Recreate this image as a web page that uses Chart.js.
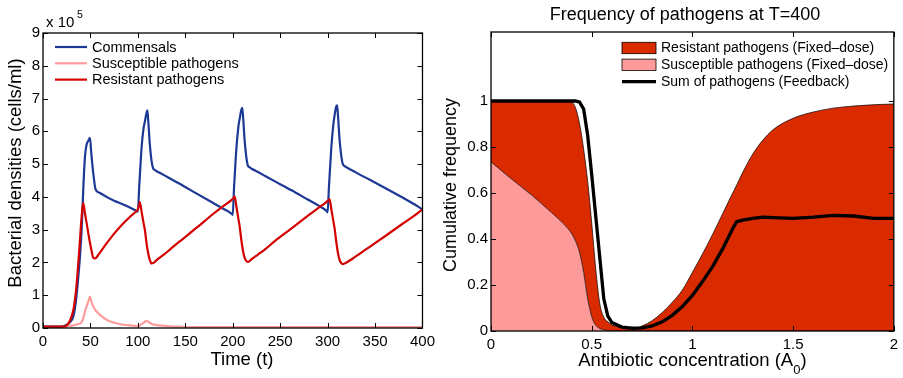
<!DOCTYPE html>
<html>
<head>
<meta charset="utf-8">
<script src="https://cdn.jsdelivr.net/npm/chart.js@4.4.1/dist/chart.umd.min.js"></script>
<style>
  html, body { margin: 0; padding: 0; background: #fff; }
  #wrap { position: relative; width: 903px; height: 378px; overflow: hidden; }
  #dens { position: absolute; left: 0; top: 0; }
  #freq { position: absolute; left: 440px; top: 0; }
</style>
</head>
<body>
<div id="wrap">
  <canvas id="dens" width="440" height="378"></canvas>
  <canvas id="freq" width="463" height="378"></canvas>
</div>
<script>
// ---- left panel: densities over time, in units of 1e5 cells/ml ----
const times = [0, 15, 22, 25, 28, 32, 35, 37.2, 39, 40.7, 42.4, 44.2, 46, 48, 49.5, 51, 53, 55, 56.5, 60, 67, 75, 84.5, 92, 98.6, 100,
  101.4, 102, 103.9, 106, 107.4, 109, 110, 111, 112.6, 114.4, 116, 118, 120, 126.6, 134, 144, 162, 179, 190, 198.6, 200,
  201.4, 202, 203.9, 206, 207.4, 209, 210, 211, 212.6, 214.4, 216, 218, 220, 226.6, 234, 244, 262, 279, 290, 298.6, 300,
  301.4, 302, 303.9, 306, 307.4, 309, 310, 311, 312.6, 314.4, 316, 318, 320, 326.6, 334, 344, 362, 379, 390, 400];

const commensals = [0.04, 0.04, 0.06, 0.1, 0.17, 0.35, 0.9, 1.56, 2.2, 2.99, 4.2, 5.22, 5.6, 5.72, 5.8, 5.3, 4.72, 4.28, 4.18, 4.12, 4.0, 3.88, 3.77, 3.67, 3.57, 3.55,
  4.3, 4.6, 5.5, 6.1, 6.3, 6.55, 6.64, 6.3, 5.6, 5.1, 4.88, 4.82, 4.78, 4.68, 4.56, 4.4, 4.1, 3.82, 3.64, 3.49, 3.45,
  4.3, 4.6, 5.5, 6.15, 6.4, 6.65, 6.72, 6.4, 5.7, 5.2, 4.95, 4.9, 4.86, 4.76, 4.64, 4.48, 4.2, 3.92, 3.74, 3.58, 3.53,
  4.3, 4.6, 5.5, 6.2, 6.5, 6.75, 6.79, 6.45, 5.75, 5.25, 5.0, 4.94, 4.9, 4.8, 4.68, 4.53, 4.25, 3.98, 3.8, 3.62];

const susceptible = [0.03, 0.03, 0.04, 0.05, 0.06, 0.08, 0.1, 0.12, 0.14, 0.17, 0.3, 0.5, 0.66, 0.83, 0.96, 0.8, 0.66, 0.55, 0.5, 0.4, 0.25, 0.16, 0.1, 0.08, 0.06, 0.06,
  0.07, 0.08, 0.12, 0.16, 0.19, 0.22, 0.21, 0.19, 0.16, 0.13, 0.11, 0.1, 0.09, 0.07, 0.05, 0.04, 0.03, 0.03, 0.03, 0.03, 0.03,
  0.03, 0.03, 0.03, 0.03, 0.03, 0.03, 0.03, 0.03, 0.03, 0.03, 0.03, 0.03, 0.03, 0.03, 0.03, 0.03, 0.03, 0.03, 0.03, 0.03, 0.03,
  0.03, 0.03, 0.03, 0.03, 0.03, 0.03, 0.03, 0.03, 0.03, 0.03, 0.03, 0.03, 0.03, 0.03, 0.03, 0.03, 0.03, 0.03, 0.03, 0.03];

const resistant = [0.04, 0.04, 0.05, 0.08, 0.2, 0.55, 1.2, 1.97, 2.7, 3.39, 3.82, 3.5, 3.2, 2.85, 2.6, 2.38, 2.14, 2.12, 2.16, 2.3, 2.58, 2.88, 3.19, 3.4, 3.57, 3.62,
  3.78, 3.85, 3.55, 3.2, 2.99, 2.62, 2.42, 2.26, 2.08, 1.97, 1.98, 2.02, 2.08, 2.22, 2.4, 2.64, 3.06, 3.47, 3.72, 3.9, 3.94,
  3.98, 4.02, 3.7, 3.32, 3.08, 2.7, 2.5, 2.32, 2.14, 2.04, 2.02, 2.05, 2.1, 2.24, 2.4, 2.64, 3.04, 3.42, 3.66, 3.84, 3.88,
  3.91, 3.93, 3.63, 3.27, 3.03, 2.66, 2.45, 2.27, 2.08, 1.98, 1.95, 1.97, 2.0, 2.12, 2.27, 2.47, 2.83, 3.18, 3.4, 3.62];

// ---- right panel: frequency of pathogens at T=400 ----
const concentrations = [0, 0.1, 0.2, 0.3, 0.36, 0.4, 0.42, 0.44, 0.46, 0.48, 0.5, 0.52, 0.54, 0.56, 0.58, 0.6, 0.65, 0.7, 0.75, 0.8,
  0.85, 0.9, 0.95, 1.0, 1.05, 1.1, 1.15, 1.2, 1.22, 1.25, 1.3, 1.35, 1.4, 1.5, 1.6, 1.7, 1.8, 1.9, 2.0];
// susceptible share (fixed dose)
const susceptibleFixed = [0.735, 0.662, 0.592, 0.515, 0.466, 0.424, 0.39, 0.34, 0.255, 0.14, 0.062, 0.025, 0.011, 0.005, 0.002, 0, 0, 0, 0, 0,
  0, 0, 0, 0, 0, 0, 0, 0, 0, 0, 0, 0, 0, 0, 0, 0, 0, 0, 0];
// susceptible + resistant (fixed dose), top of the red area
const allFixed = [1.0, 1.0, 1.0, 1.0, 1.0, 0.995, 0.97, 0.9, 0.79, 0.65, 0.47, 0.27, 0.12, 0.06, 0.04, 0.027, 0.015, 0.01, 0.022, 0.045,
  0.08, 0.125, 0.178, 0.255, 0.335, 0.42, 0.51, 0.6, 0.635, 0.69, 0.77, 0.83, 0.875, 0.925, 0.952, 0.969, 0.978, 0.984, 0.987];
// sum of pathogens with feedback dosing
const sumFeedback = [1.0, 1.0, 1.0, 1.0, 1.0, 1.0, 1.0, 0.995, 0.965, 0.85, 0.68, 0.5, 0.32, 0.14, 0.065, 0.037, 0.017, 0.012, 0.014, 0.022,
  0.04, 0.068, 0.106, 0.155, 0.215, 0.28, 0.357, 0.445, 0.475, 0.482, 0.49, 0.495, 0.493, 0.49, 0.495, 0.503, 0.5, 0.49, 0.49];

const FONT = "'Liberation Sans', Arial, Helvetica, sans-serif";
Chart.defaults.font.family = FONT;
Chart.defaults.color = '#000';

const pts = (xs, ys) => xs.map((x, i) => ({ x: x, y: ys[i] }));
const plainNum = v => String(Math.round(v * 100) / 100);

// matlab style box with inward ticks on all four sides
const boxAxes = {
  id: 'boxAxes',
  afterDatasetsDraw(chart) {
    const { ctx, chartArea: a, scales } = chart;
    const x = scales.x, y = scales.y, len = 5;
    ctx.save();
    ctx.strokeStyle = '#000';
    ctx.lineWidth = 1;
    ctx.beginPath();
    x.ticks.forEach(t => {
      const px = Math.round(x.getPixelForValue(t.value)) + 0.5;
      ctx.moveTo(px, a.bottom); ctx.lineTo(px, a.bottom - len);
      ctx.moveTo(px, a.top); ctx.lineTo(px, a.top + len);
    });
    y.ticks.forEach(t => {
      const py = Math.round(y.getPixelForValue(t.value)) + 0.5;
      ctx.moveTo(a.left, py); ctx.lineTo(a.left + len, py);
      ctx.moveTo(a.right, py); ctx.lineTo(a.right - len, py);
    });
    ctx.stroke();
    ctx.lineWidth = 1.3;
    ctx.strokeRect(a.left, a.top, a.right - a.left, a.bottom - a.top);
    ctx.restore();
  }
};

function drawRotated(ctx, text, cx, cy) {
  ctx.save();
  ctx.translate(cx, cy);
  ctx.rotate(-Math.PI / 2);
  ctx.textAlign = 'center';
  ctx.textBaseline = 'middle';
  ctx.fillText(text, 0, 0);
  ctx.restore();
}

const densityExtras = {
  id: 'densityExtras',
  afterDraw(chart) {
    const { ctx } = chart;
    ctx.save();
    ctx.fillStyle = '#000';
    // exponent label
    ctx.textBaseline = 'alphabetic';
    ctx.font = '15px ' + FONT;
    ctx.fillText('x 10', 46, 27);
    ctx.font = '10.5px ' + FONT;
    ctx.fillText('5', 77, 18);
    // axis titles
    ctx.font = '18.5px ' + FONT;
    ctx.textAlign = 'center';
    ctx.textBaseline = 'middle';
    ctx.fillText('Time (t)', 242, 360);
    drawRotated(ctx, 'Bacterial densities (cells/ml)', 15.5, 173);
    // legend
    ctx.font = '14.5px ' + FONT;
    ctx.textAlign = 'left';
    chart.data.datasets.forEach((ds, i) => {
      const ly = 47 + i * 16.3;
      ctx.strokeStyle = ds.borderColor;
      ctx.lineWidth = 2.2;
      ctx.beginPath();
      ctx.moveTo(55, ly); ctx.lineTo(87, ly);
      ctx.stroke();
      ctx.fillText(ds.label, 92, ly + 0.5);
    });
    ctx.restore();
  }
};

const freqExtras = {
  id: 'freqExtras',
  afterDraw(chart) {
    const { ctx, chartArea: a } = chart;
    const ds = chart.data.datasets;
    ctx.save();
    ctx.fillStyle = '#000';
    ctx.textBaseline = 'middle';
    ctx.textAlign = 'center';
    ctx.font = '18px ' + FONT;
    ctx.fillText('Frequency of pathogens at T=400', 245, 15);
    drawRotated(ctx, 'Cumulative frequency', 11, 185);
    // x title with subscript
    ctx.textAlign = 'left';
    ctx.textBaseline = 'alphabetic';
    const main = 'Antibiotic concentration (A';
    ctx.font = '18.5px ' + FONT;
    const w1 = ctx.measureText(main).width;
    const w3 = ctx.measureText(')').width;
    ctx.font = '13px ' + FONT;
    const w2 = ctx.measureText('0').width;
    let sx = (a.left + a.right) / 2 - (w1 + w2 + w3) / 2;
    ctx.font = '18.5px ' + FONT;
    ctx.fillText(main, sx, 366);
    ctx.font = '13px ' + FONT;
    ctx.fillText('0', sx + w1, 374);
    ctx.font = '18.5px ' + FONT;
    ctx.fillText(')', sx + w1 + w2, 366);
    // legend: resistant, susceptible, feedback
    const entries = [ds[1], ds[0], ds[2]];
    ctx.font = '14px ' + FONT;
    ctx.textBaseline = 'middle';
    entries.forEach((d, i) => {
      const ly = 48 + i * 16.8;
      if (d.fill) {
        ctx.fillStyle = d.backgroundColor;
        ctx.fillRect(182, ly - 5.7, 34, 11.4);
        ctx.strokeStyle = '#000';
        ctx.lineWidth = 0.8;
        ctx.strokeRect(182, ly - 5.7, 34, 11.4);
      } else {
        ctx.strokeStyle = d.borderColor;
        ctx.lineWidth = d.borderWidth;
        ctx.beginPath();
        ctx.moveTo(182, ly); ctx.lineTo(216, ly);
        ctx.stroke();
      }
      ctx.fillStyle = '#000';
      ctx.fillText(d.label, 221, ly + 0.5);
    });
    ctx.restore();
  }
};

const tickFont = { size: 15 };
const noGrid = { display: false, drawTicks: false, tickLength: 0 };

new Chart(document.getElementById('dens').getContext('2d'), {
  type: 'line',
  data: {
    datasets: [
      { label: 'Commensals', data: pts(times, commensals), borderColor: '#1b3894', borderWidth: 2.2, order: 3 },
      { label: 'Susceptible pathogens', data: pts(times, susceptible), borderColor: '#ff9c9c', borderWidth: 2.2, order: 2 },
      { label: 'Resistant pathogens', data: pts(times, resistant), borderColor: '#d40000', borderWidth: 2.2, order: 1 }
    ]
  },
  options: {
    responsive: false,
    animation: false,
    devicePixelRatio: 1,
    layout: { padding: { top: 33, right: 17, left: 0, bottom: 0 } },
    elements: { point: { radius: 0 }, line: { cubicInterpolationMode: 'monotone', fill: false } },
    plugins: { legend: { display: false }, tooltip: { enabled: false } },
    scales: {
      x: {
        type: 'linear', min: 0, max: 400,
        ticks: { stepSize: 50, padding: 5, maxRotation: 0, autoSkip: false, font: tickFont, callback: plainNum },
        grid: noGrid, border: { display: false },
        afterFit(s) { s.height = 50; }
      },
      y: {
        type: 'linear', min: 0, max: 9,
        ticks: { stepSize: 1, padding: 3, font: tickFont, callback: plainNum },
        grid: noGrid, border: { display: false },
        afterFit(s) { s.width = 43; }
      }
    }
  },
  plugins: [boxAxes, densityExtras]
});

new Chart(document.getElementById('freq').getContext('2d'), {
  type: 'line',
  data: {
    datasets: [
      { label: 'Susceptible pathogens (Fixed\u2013dose)', data: pts(concentrations, susceptibleFixed),
        backgroundColor: '#ff9a9a', borderColor: '#000', borderWidth: 0.7, fill: 'origin', order: 1 },
      { label: 'Resistant pathogens (Fixed\u2013dose)', data: pts(concentrations, allFixed),
        backgroundColor: '#d92a00', borderColor: '#000', borderWidth: 0.7, fill: '-1', order: 2 },
      { label: 'Sum of pathogens (Feedback)', data: pts(concentrations, sumFeedback),
        borderColor: '#000', borderWidth: 3.3, fill: false, order: 0, cubicInterpolationMode: 'default', tension: 0 }
    ]
  },
  options: {
    responsive: false,
    animation: false,
    devicePixelRatio: 1,
    layout: { padding: { top: 32, right: 7, left: 0, bottom: 0 } },
    elements: { point: { radius: 0 }, line: { cubicInterpolationMode: 'monotone' } },
    plugins: { legend: { display: false }, tooltip: { enabled: false } },
    scales: {
      x: {
        type: 'linear', min: 0, max: 2,
        ticks: { stepSize: 0.5, padding: 5, maxRotation: 0, autoSkip: false, font: tickFont, callback: plainNum },
        grid: noGrid, border: { display: false },
        afterFit(s) { s.height = 47; }
      },
      y: {
        type: 'linear', min: 0, max: 1.3,
        ticks: { stepSize: 0.2, padding: 3, font: tickFont, callback: plainNum },
        afterBuildTicks(s) { s.ticks = s.ticks.filter(t => t.value <= 1.0001); },
        grid: noGrid, border: { display: false },
        afterFit(s) { s.width = 51; }
      }
    }
  },
  plugins: [boxAxes, freqExtras]
});
</script>
</body>
</html>
